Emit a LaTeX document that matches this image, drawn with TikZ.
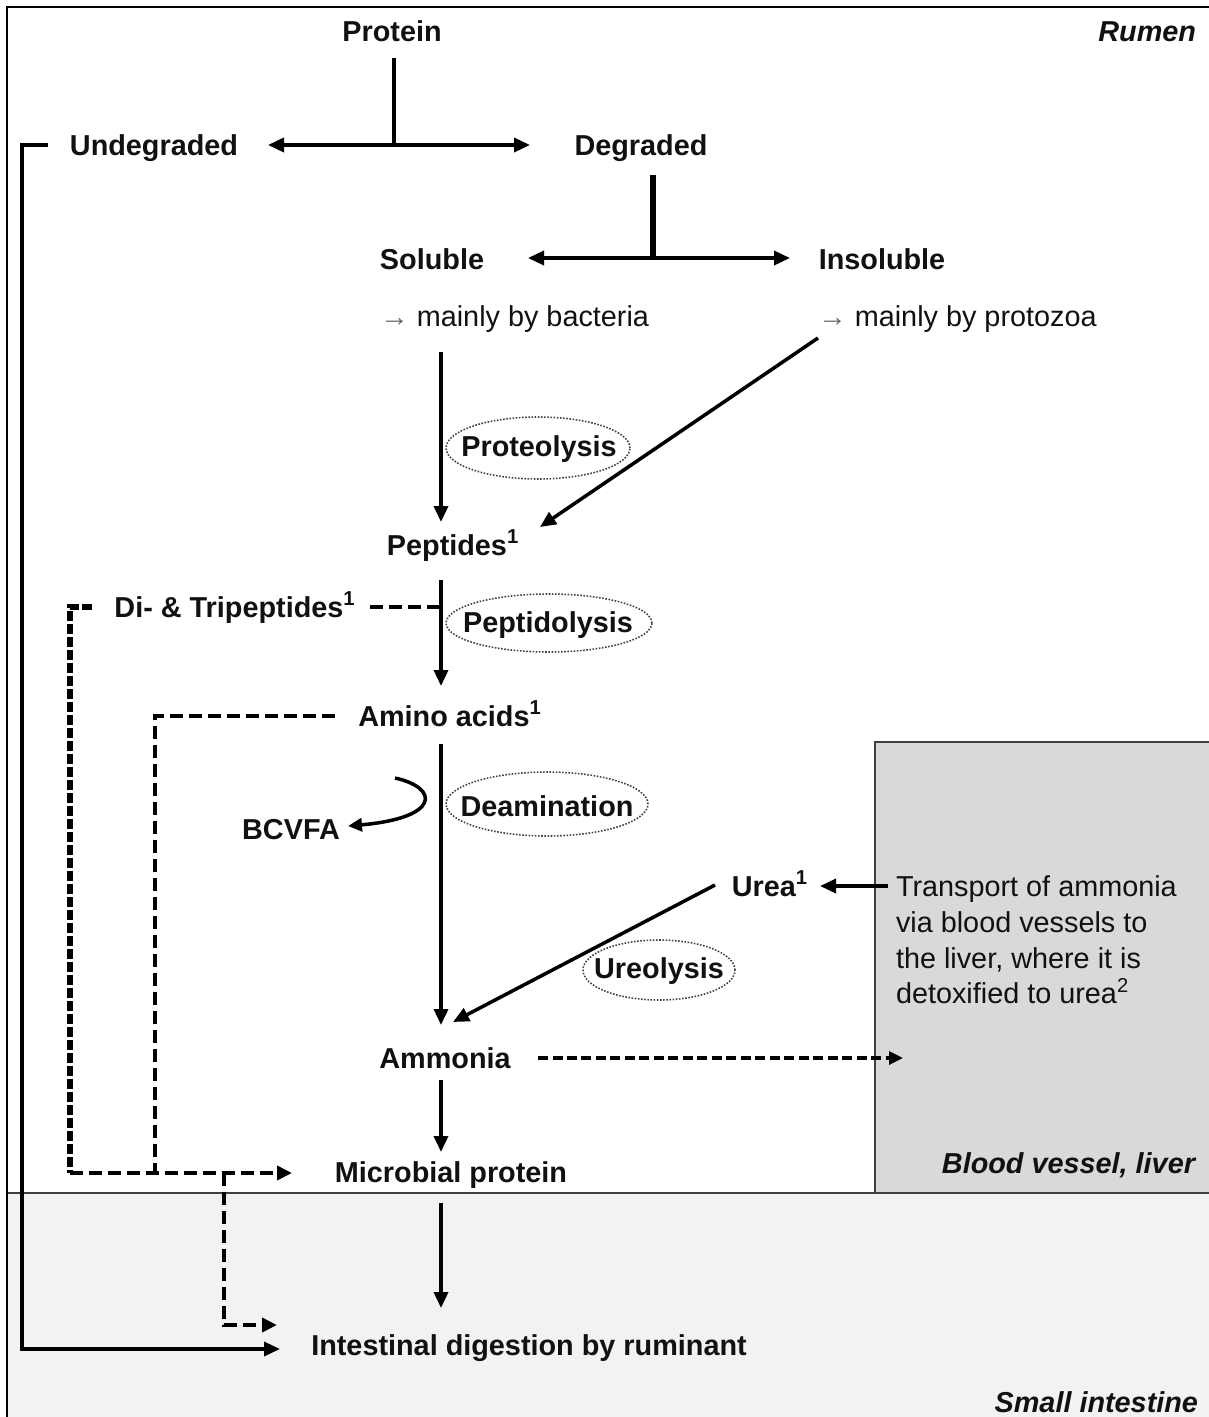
\documentclass[tikz,border=0pt]{standalone}
\usepackage{fontspec}
\setmainfont{Liberation Sans}
\usetikzlibrary{arrows.meta,shapes.geometric}
\definecolor{boxfill}{HTML}{D9D9D9}
\definecolor{intfill}{HTML}{F2F2F2}
\definecolor{edgegray}{HTML}{404040}
\definecolor{txt}{HTML}{111111}
\begin{document}
\begin{tikzpicture}[x=0.02cm,y=-0.02cm,
  every node/.style={inner sep=0pt,outer sep=0pt,text=txt,font=\fontsize{16.4}{20.3}\selectfont},
  bt/.style={anchor=base,font=\fontsize{16.4}{20.3}\selectfont\bfseries},
  rt/.style={anchor=base west,font=\fontsize{16.4}{20.3}\selectfont},
  regionlbl/.style={anchor=base east,font=\fontsize{16.4}{20.3}\selectfont\bfseries\itshape},
  proctext/.style={font=\fontsize{16.4}{20.3}\selectfont\bfseries},
  procell/.style={draw=edgegray,line width=0.9pt,dash pattern=on 0.9pt off 0.9pt},
  ln/.style={line width=2pt},
  arr/.style={line width=2pt,-{Triangle[length=0.32cm,width=0.28cm]}},
  dsh/.style={line width=2.8pt,dash pattern=on 0.26cm off 0.12cm},
  dshthin/.style={line width=1.8pt,dash pattern=on 0.2cm off 0.09cm},
  dshleft/.style={line width=3.2pt,dash pattern=on 0.2cm off 0.06cm}
]
\useasboundingbox (0,0) rectangle (1209,1417);
% backgrounds
\fill[intfill] (7,1193) rectangle (1209,1417);
\filldraw[fill=boxfill,draw=edgegray,line width=1pt] (875,1193) -- (875,742) -- (1212,742) -- (1212,1193);
\draw[edgegray,line width=1.2pt] (7,1193) -- (1209,1193);
% frame
\draw[line width=1.6pt] (7,1417) -- (7,7) -- (1209,7);

% region labels
\node[regionlbl] (rumen) at (1196,41) {Rumen};
\node[regionlbl] (blood) at (1195,1173) {Blood vessel, liver};
\node[regionlbl] (small) at (1198,1412) {Small intestine};

% main nodes
\node[bt] (prot) at (392,41) {Protein};
\node[bt] (und) at (154,155) {Undegraded};
\node[bt] (deg) at (641,155) {Degraded};
\node[bt] (sol) at (432,269) {Soluble};
\node[bt] (ins) at (882,269) {Insoluble};
\node[rt] (bac) at (380,326) {{\color{gray!80!black}→} mainly by bacteria};
\node[rt] (pro) at (818,326) {{\color{gray!80!black}→} mainly by protozoa};
\node[proctext] (proteo) at (539,449) {Proteolysis};
\draw[procell] (538,448) ellipse [x radius=1.84cm, y radius=0.62cm];
\node[bt] (pep) at (453,555) {Peptides\textsuperscript{1}};
\node[proctext] (peptido) at (548,625) {Peptidolysis};
\draw[procell] (549,623) ellipse [x radius=2.06cm, y radius=0.58cm];
\node[bt] (ditri) at (235,617) {Di- \& Tripeptides\textsuperscript{1}};
\node[bt] (amino) at (450,726) {Amino acids\textsuperscript{1}};
\node[proctext] (deam) at (547,806) {Deamination};
\draw[procell] (547,804) ellipse [x radius=2.02cm, y radius=0.64cm];
\node[bt] (bcvfa) at (291,839) {BCVFA};
\node[bt] (urea) at (770,896) {Urea\textsuperscript{1}};
\node[proctext] (ureo) at (659,971) {Ureolysis};
\draw[procell] (659,970) ellipse [x radius=1.52cm, y radius=0.6cm];
\node[rt,align=left,anchor=north west] (trans) at (896,876) {Transport of ammonia\\via blood vessels to\\the liver, where it is\\detoxified to urea\textsuperscript{2}};
\node[bt] (amo) at (445,1068) {Ammonia};
\node[bt] (mp) at (451,1182) {Microbial protein};
\node[bt] (intd) at (529,1355) {Intestinal digestion by ruminant};

% junction and end coordinates
\coordinate (protS) at (394,58);
\coordinate (pj) at (394,145);
\coordinate (undE) at (268,145);
\coordinate (degW) at (530,145);
\coordinate (degS) at (653,175);
\coordinate (dj) at (653,258);
\coordinate (solE) at (528,258);
\coordinate (insW) at (790,258);
\coordinate (bacS) at (441,352);
\coordinate (pepN) at (441,522);
\coordinate (proSW) at (818,338);
\coordinate (pepNE) at (540,527);
\coordinate (pepS) at (441,580);
\coordinate (amN) at (441,686);
\coordinate (dtE) at (370,607);
\coordinate (dtj) at (441,607);
\coordinate (dtW) at (92,607);
\coordinate (c1) at (70,607);
\coordinate (c2) at (70,1173);
\coordinate (amW) at (335,716);
\coordinate (c3) at (155,716);
\coordinate (c4) at (155,1173);
\coordinate (mpW) at (292,1173);
\coordinate (bj) at (224,1173);
\coordinate (c5) at (224,1325);
\coordinate (intW1) at (277,1325);
\coordinate (amS) at (441,744);
\coordinate (amoN) at (441,1025);
\coordinate (bcS) at (395,778);
\coordinate (bcE) at (348,826);
\coordinate (trW) at (888,886);
\coordinate (ureaE) at (820,886);
\coordinate (ureaW) at (715,885);
\coordinate (amoNE) at (453,1022);
\coordinate (amoE) at (538,1058);
\coordinate (bloodW) at (903,1058);
\coordinate (amoS) at (441,1080);
\coordinate (mpN) at (441,1152);
\coordinate (mpS) at (441,1203);
\coordinate (intN) at (441,1308);
\coordinate (undW) at (48,145);
\coordinate (l1) at (22,145);
\coordinate (l2) at (22,1349);
\coordinate (intW2) at (280,1349);

% connectors
\draw[ln] (protS) -- (pj);
\draw[arr] (pj) -- (undE);
\draw[arr] (pj) -- (degW);
\draw[line width=3pt] (degS) -- (dj);
\draw[arr] (dj) -- (solE);
\draw[arr] (dj) -- (insW);
\draw[arr] (bacS) -- (pepN);
\draw[arr] (proSW) -- (pepNE);
\draw[arr] (pepS) -- (amN);
\draw[dsh] (dtE) -- (dtj);
\draw[dshleft] (dtW) -- (c1) -- (c2);
\draw[dsh] (amW) -- (c3) -- (c4);
\draw[dsh,-{Triangle[length=0.3cm,width=0.28cm]}] (c2) -- (mpW);
\draw[dsh,-{Triangle[length=0.3cm,width=0.28cm]}] (bj) -- (c5) -- (intW1);
\draw[arr] (amS) -- (amoN);
\draw[line width=2pt,-{Triangle[length=0.28cm,width=0.26cm]}] (bcS) .. controls (440,788) and (440,818) .. (bcE);
\draw[arr] (trW) -- (ureaE);
\draw[arr] (ureaW) -- (amoNE);
\draw[dshthin,-{Triangle[length=0.28cm,width=0.26cm]}] (amoE) -- (bloodW);
\draw[arr] (amoS) -- (mpN);
\draw[arr] (mpS) -- (intN);
\draw[arr] (undW) -- (l1) -- (l2) -- (intW2);
\end{tikzpicture}
\end{document}
